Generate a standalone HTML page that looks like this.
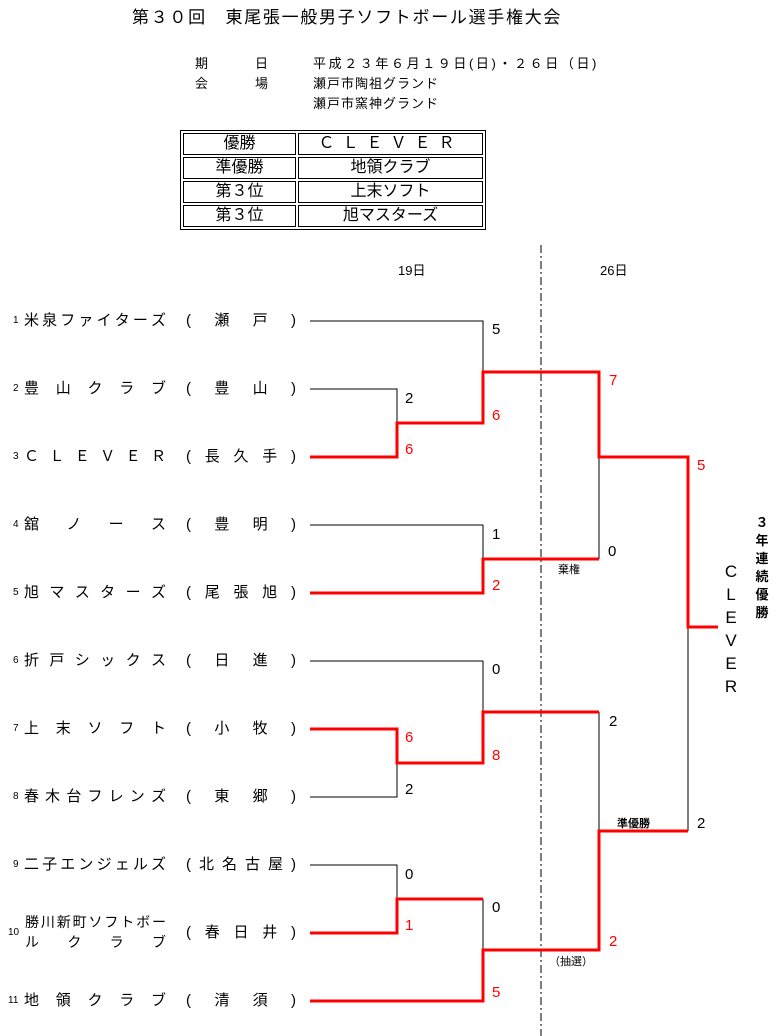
<!DOCTYPE html>
<html><head><meta charset="utf-8"><style>
body{margin:0;background:#fff;width:776px;height:1036px;position:relative;overflow:hidden;font-family:"Liberation Sans","Noto Sans CJK JP",sans-serif;color:#000}
.a{position:absolute;white-space:nowrap}
.f{position:absolute;display:flex;justify-content:space-between;font-size:15px;line-height:18px}
.n{position:absolute;font-size:10px;line-height:12px}
.s{position:absolute;font-size:15px;line-height:16px}
.r{color:#f00}
table{position:absolute;left:180px;top:130px;border:1px solid #000;border-collapse:separate;border-spacing:2px;font-size:16px}
td{border:1px solid #000;height:20px;padding:0;text-align:center;line-height:20px}
</style></head><body>
<div class="a" style="left:132px;top:3px;font-size:17px;letter-spacing:1.7px">第３０回　東尾張一般男子ソフトボール選手権大会</div>
<div class="a" style="left:195px;top:53px;font-size:13px;">期</div>
<div class="a" style="left:255px;top:53px;font-size:13px;">日</div>
<div class="a" style="left:313px;top:53px;font-size:13px;letter-spacing:2.6px">平成２３年６月１９日(日)・２６日（日)</div>
<div class="a" style="left:195px;top:73px;font-size:13px;">会</div>
<div class="a" style="left:255px;top:73px;font-size:13px;">場</div>
<div class="a" style="left:313px;top:73px;font-size:13px;letter-spacing:1px">瀬戸市陶祖グランド</div>
<div class="a" style="left:313px;top:93px;font-size:13px;letter-spacing:1px">瀬戸市窯神グランド</div>
<table>
<tr><td style="width:111px">優勝</td><td style="width:183px;letter-spacing:8px">ＣＬＥＶＥＲ</td></tr>
<tr><td>準優勝</td><td>地領クラブ</td></tr>
<tr><td>第３位</td><td>上末ソフト</td></tr>
<tr><td>第３位</td><td>旭マスターズ</td></tr>
</table>
<div class="a" style="left:398px;top:260px;font-size:13px;">19日</div>
<div class="a" style="left:600px;top:260px;font-size:13px;">26日</div>

<svg style="position:absolute;left:0;top:0" width="776" height="1036">
<line x1="541" y1="245" x2="541" y2="1036" stroke="#000" stroke-width="1" stroke-dasharray="8,3,2,3"/>
<g stroke="#000" stroke-width="1" fill="none">
<polyline points="310,321 483,321 483,372"/>
<polyline points="310,389 397,389 397,457"/>
<polyline points="310,525 483,525 483,559"/>
<polyline points="599,457 599,559"/>
<polyline points="688,627 688,831"/>
<polyline points="310,661 483,661 483,712"/>
<polyline points="599,712 599,831"/>
<polyline points="310,797 397,797 397,763"/>
<polyline points="310,865 397,865 397,899"/>
<polyline points="483,899 483,950"/>
</g>
<g stroke="#f00" stroke-width="3" fill="none" stroke-linejoin="miter">
<polyline points="310,457 397,457 397,423 483,423 483,372 599,372 599,457 688,457 688,627 718,627"/>
<polyline points="310,593 483,593 483,559 599,559"/>
<polyline points="310,729 397,729 397,763 483,763 483,712 599,712"/>
<polyline points="310,933 397,933 397,899 483,899"/>
<polyline points="310,1001 483,1001 483,950 599,950 599,831 688,831"/>
</g>
</svg>

<div class="n" style="left:13px;top:315px">1</div>
<div class="f" style="left:24px;top:312px;width:142px"><span>米</span><span>泉</span><span>フ</span><span>ァ</span><span>イ</span><span>タ</span><span>ー</span><span>ズ</span></div>
<div class="f" style="left:186px;top:312px;width:110px"><span>(</span><span>瀬</span><span>戸</span><span>)</span></div>

<div class="n" style="left:13px;top:383px">2</div>
<div class="f" style="left:24px;top:380px;width:142px"><span>豊</span><span>山</span><span>ク</span><span>ラ</span><span>ブ</span></div>
<div class="f" style="left:186px;top:380px;width:110px"><span>(</span><span>豊</span><span>山</span><span>)</span></div>

<div class="n" style="left:13px;top:451px">3</div>
<div class="f" style="left:24px;top:448px;width:142px"><span>Ｃ</span><span>Ｌ</span><span>Ｅ</span><span>Ｖ</span><span>Ｅ</span><span>Ｒ</span></div>
<div class="f" style="left:186px;top:448px;width:110px"><span>(</span><span>長</span><span>久</span><span>手</span><span>)</span></div>

<div class="n" style="left:13px;top:519px">4</div>
<div class="f" style="left:24px;top:516px;width:142px"><span>舘</span><span>ノ</span><span>ー</span><span>ス</span></div>
<div class="f" style="left:186px;top:516px;width:110px"><span>(</span><span>豊</span><span>明</span><span>)</span></div>

<div class="n" style="left:13px;top:587px">5</div>
<div class="f" style="left:24px;top:584px;width:142px"><span>旭</span><span>マ</span><span>ス</span><span>タ</span><span>ー</span><span>ズ</span></div>
<div class="f" style="left:186px;top:584px;width:110px"><span>(</span><span>尾</span><span>張</span><span>旭</span><span>)</span></div>

<div class="n" style="left:13px;top:655px">6</div>
<div class="f" style="left:24px;top:652px;width:142px"><span>折</span><span>戸</span><span>シ</span><span>ッ</span><span>ク</span><span>ス</span></div>
<div class="f" style="left:186px;top:652px;width:110px"><span>(</span><span>日</span><span>進</span><span>)</span></div>

<div class="n" style="left:13px;top:723px">7</div>
<div class="f" style="left:24px;top:720px;width:142px"><span>上</span><span>末</span><span>ソ</span><span>フ</span><span>ト</span></div>
<div class="f" style="left:186px;top:720px;width:110px"><span>(</span><span>小</span><span>牧</span><span>)</span></div>

<div class="n" style="left:13px;top:791px">8</div>
<div class="f" style="left:24px;top:788px;width:142px"><span>春</span><span>木</span><span>台</span><span>フ</span><span>レ</span><span>ン</span><span>ズ</span></div>
<div class="f" style="left:186px;top:788px;width:110px"><span>(</span><span>東</span><span>郷</span><span>)</span></div>

<div class="n" style="left:13px;top:859px">9</div>
<div class="f" style="left:24px;top:856px;width:142px"><span>二</span><span>子</span><span>エ</span><span>ン</span><span>ジ</span><span>ェ</span><span>ル</span><span>ズ</span></div>
<div class="f" style="left:186px;top:856px;width:110px"><span>(</span><span>北</span><span>名</span><span>古</span><span>屋</span><span>)</span></div>

<div class="n" style="left:8px;top:927px">10</div>
<div class="f" style="left:25px;top:914px;width:141px;font-size:14px;line-height:17px"><span>勝</span><span>川</span><span>新</span><span>町</span><span>ソ</span><span>フ</span><span>ト</span><span>ボ</span><span>ー</span></div>
<div class="f" style="left:25px;top:934px;width:141px;font-size:14px;line-height:17px"><span>ル</span><span>ク</span><span>ラ</span><span>ブ</span></div>
<div class="f" style="left:186px;top:924px;width:110px"><span>(</span><span>春</span><span>日</span><span>井</span><span>)</span></div>

<div class="n" style="left:8px;top:995px">11</div>
<div class="f" style="left:24px;top:992px;width:142px"><span>地</span><span>領</span><span>ク</span><span>ラ</span><span>ブ</span></div>
<div class="f" style="left:186px;top:992px;width:110px"><span>(</span><span>清</span><span>須</span><span>)</span></div>

<div class="s" style="left:492px;top:322px">5</div>
<div class="s" style="left:405px;top:391px">2</div>
<div class="s r" style="left:405px;top:442px">6</div>
<div class="s r" style="left:492px;top:408px">6</div>
<div class="s r" style="left:609px;top:373px">7</div>
<div class="s r" style="left:697px;top:458px">5</div>
<div class="s" style="left:492px;top:527px">1</div>
<div class="s" style="left:608px;top:544px">0</div>
<div class="a" style="left:558px;top:561px;font-size:11px">棄権</div>
<div class="s r" style="left:492px;top:578px">2</div>
<div class="s" style="left:492px;top:662px">0</div>
<div class="s" style="left:609px;top:714px">2</div>
<div class="s r" style="left:405px;top:730px">6</div>
<div class="s r" style="left:492px;top:748px">8</div>
<div class="s" style="left:405px;top:782px">2</div>
<div class="a" style="left:617px;top:815px;font-size:11px;font-weight:bold">準優勝</div>
<div class="s" style="left:697px;top:816px">2</div>
<div class="s" style="left:405px;top:867px">0</div>
<div class="s" style="left:492px;top:900px">0</div>
<div class="s r" style="left:405px;top:918px">1</div>
<div class="s r" style="left:609px;top:934px">2</div>
<div class="a" style="left:549px;top:953px;font-size:11px">（抽選）</div>
<div class="s r" style="left:492px;top:985px">5</div>

<div class="a" style="left:755px;top:514px;width:14px;font-size:13px;line-height:18px;font-weight:bold;white-space:normal;text-align:center">３<br>年<br>連<br>続<br>優<br>勝</div>
<div class="a" style="left:722px;top:560px;width:18px;font-size:17px;line-height:23px;white-space:normal;text-align:center">C<br>L<br>E<br>V<br>E<br>R</div>
</body></html>
